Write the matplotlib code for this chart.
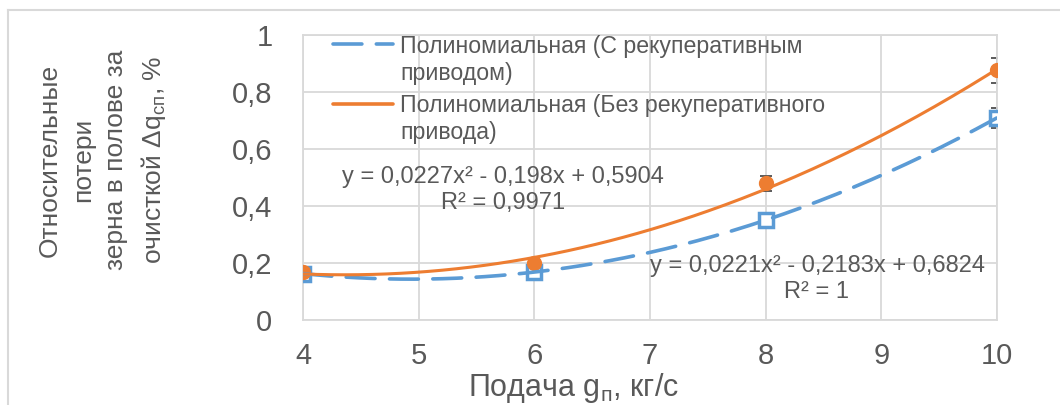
import numpy as np
import matplotlib
matplotlib.use('Agg')
import matplotlib.pyplot as plt
from matplotlib.lines import Line2D

plt.rcParams['font.family'] = ['Liberation Sans', 'DejaVu Sans']
plt.rcParams['mathtext.fontset'] = 'custom'
plt.rcParams['mathtext.rm'] = 'Liberation Sans'
plt.rcParams['mathtext.default'] = 'regular'

############ data ############
feed = [4, 6, 8, 10]
loss_regen = [0.163, 0.168, 0.350, 0.709]      # с рекуперативным приводом
loss_plain = [0.170, 0.200, 0.479, 0.876]      # без рекуперативного привода
err_regen = [0.005, 0.005, 0.01, 0.035]
err_plain = [0.005, 0.005, 0.025, 0.044]
coef_regen = [0.0221, -0.2183, 0.6824]
coef_plain = [0.0227, -0.198, 0.5904]
eq_regen = 'y = 0,0221x² - 0,2183x + 0,6824\nR² = 1'
eq_plain = 'y = 0,0227x² - 0,198x + 0,5904\nR² = 0,9971'
legend_labels = ['Полиномиальная (С рекуперативным\nприводом)',
                 'Полиномиальная (Без рекуперативного\nпривода)']
xticks = [4, 5, 6, 7, 8, 9, 10]
yticks = [0, 0.2, 0.4, 0.6, 0.8, 1.0]

BLUE = '#5B9BD5'
ORANGE = '#ED7D31'
TXT = '#595959'
GRID = '#D9D9D9'

W, H = 1060, 405
fig = plt.figure(figsize=(W / 100, H / 100), dpi=100)

def fx(x):
    return x / W

def fy(y):
    return 1 - y / H

# chart border (top / left visible)
fig.add_artist(Line2D([fx(8), fx(8)], [fy(10), 0], color=GRID, lw=1.5))
fig.add_artist(Line2D([fx(8), 1], [fy(10), fy(10)], color=GRID, lw=1.5))

ax = fig.add_axes([fx(303), fy(320), fx(997) - fx(303), fy(35) - fy(320)])
ax.set_xlim(4, 10)
ax.set_ylim(0, 1)
ax.set_xticks(xticks)
ax.set_yticks(yticks)
ax.set_xticklabels([str(t) for t in xticks])
ax.set_yticklabels([('%g' % t).replace('.', ',') for t in yticks])
ax.tick_params(length=0, labelsize=21, labelcolor=TXT)
ax.tick_params(axis='x', pad=16)
ax.tick_params(axis='y', pad=22)
ax.grid(True, color=GRID, lw=1.3)
ax.set_axisbelow(True)
for s in ax.spines.values():
    s.set_color(GRID)
    s.set_linewidth(1.3)

# markers and error bars
ax.errorbar(feed, loss_regen, yerr=err_regen, fmt='none', ecolor='#404040',
            elinewidth=1.2, capsize=4, capthick=1.2, zorder=2)
ax.errorbar(feed, loss_plain, yerr=err_plain, fmt='none', ecolor='#404040',
            elinewidth=1.2, capsize=4, capthick=1.2, zorder=2)
ax.plot(feed, loss_regen, ls='none', marker='s', ms=10, mfc='white',
        mec=BLUE, mew=2.5, zorder=3)
ax.plot(feed, loss_plain, ls='none', marker='o', ms=10, color=ORANGE, zorder=4)

# trendlines
xs = np.linspace(4, 10, 200)
ax.plot(xs, np.polyval(coef_regen, xs), color=BLUE, lw=2.6,
        dashes=(8, 4), dash_capstyle='round', zorder=5)
ax.plot(xs, np.polyval(coef_plain, xs), color=ORANGE, lw=2.2, zorder=5)

# legend drawn like excel: handle on first line of each entry
for yl, yt, col, dash, lab in [(44, 60, BLUE, (8, 4), legend_labels[0]),
                               (104, 119, ORANGE, None, legend_labels[1])]:
    ln = Line2D([fx(333), fx(393)], [fy(yl), fy(yl)], color=col, lw=2.6,
                solid_capstyle='round', dash_capstyle='round')
    if dash:
        ln.set_dashes(dash)
    fig.add_artist(ln)
    fig.text(fx(400), fy(yt), lab, fontsize=16.7, color=TXT, ha='left',
             va='center', linespacing=1.25)

# equations
fig.text(fx(503), fy(190), eq_plain, fontsize=17, color=TXT, ha='center',
         va='center', multialignment='center', linespacing=1.2)
fig.text(fx(817), fy(279), eq_regen, fontsize=17, color=TXT, ha='center',
         va='center', multialignment='center', linespacing=1.2)

# axis titles
fig.text(fx(103), fy(160),
         'Относительные\nпотери\nзерна в полове за\nочисткой Δq$_{сп}$, %',
         rotation=90, fontsize=19, color=TXT, ha='center', va='center',
         multialignment='center', linespacing=1.5)
fig.text(fx(573), fy(396), 'Подача g$_{п}$, кг/с', fontsize=22, color=TXT,
         ha='center', va='baseline')

fig.savefig('out.png', dpi=100)
